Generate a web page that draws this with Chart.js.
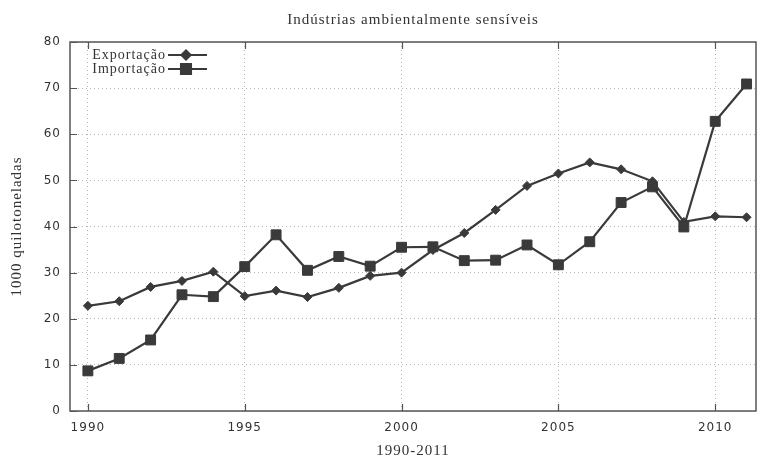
<!DOCTYPE html>
<html lang="pt">
<head>
<meta charset="UTF-8">
<title>Indústrias ambientalmente sensíveis</title>
<script src="https://cdn.jsdelivr.net/npm/chart.js"></script>
<style>
  html, body { margin: 0; padding: 0; background: #fff; }
  #wrap { width: 764px; height: 459px; position: relative; }
</style>
</head>
<body>
<div id="wrap"><canvas id="chart"></canvas></div>
<script>
// years on the x axis
const years = [1990, 1991, 1992, 1993, 1994, 1995, 1996, 1997, 1998, 1999, 2000,
               2001, 2002, 2003, 2004, 2005, 2006, 2007, 2008, 2009, 2010, 2011];

// 1000 quilotoneladas
const exportacao = [22.8, 23.8, 26.9, 28.2, 30.2, 24.9, 26.1, 24.7, 26.7, 29.3, 30.0,
                    34.9, 38.6, 43.6, 48.8, 51.5, 53.9, 52.4, 49.8, 41.0, 42.2, 42.0];
const importacao = [8.7, 11.4, 15.4, 25.2, 24.8, 31.3, 38.2, 30.5, 33.5, 31.4, 35.5,
                    35.6, 32.6, 32.7, 36.0, 31.7, 36.7, 45.2, 48.6, 39.9, 62.8, 70.9];

const xTicks = [1990, 1995, 2000, 2005, 2010];
const yTicks = [0, 10, 20, 30, 40, 50, 60, 70, 80];

const chartTitle = 'Indústrias ambientalmente sensíveis';
const xTitle = '1990-2011';
const yTitle = '1000 quilotoneladas';

const ink = '#3a3a3a';
const serif = '"Liberation Serif", "DejaVu Serif", serif';
const sans = '"DejaVu Sans", sans-serif';

// wider letter spacing for every text on the canvas
const spacing = {
  id: 'spacing',
  beforeDraw(chart) { chart.ctx.letterSpacing = '1px'; },
  afterDraw(chart) { chart.ctx.letterSpacing = '0px'; }
};

// frame, inner tick marks, titles and the legend in the top-left corner
const decorations = {
  id: 'decorations',
  afterDatasetsDraw(chart) {
    const { ctx, chartArea: a, scales } = chart;
    ctx.save();

    // inner tick marks
    ctx.strokeStyle = '#555';
    ctx.lineWidth = 1.2;
    ctx.beginPath();
    yTicks.forEach(v => {
      const y = Math.round(scales.y.getPixelForValue(v)) + 0.5;
      ctx.moveTo(a.left, y); ctx.lineTo(a.left + 7, y);
    });
    xTicks.forEach(v => {
      const x = Math.round(scales.x.getPixelForValue(v)) + 0.5;
      ctx.moveTo(x, a.bottom); ctx.lineTo(x, a.bottom - 7);
      ctx.moveTo(x, a.top); ctx.lineTo(x, a.top + 7);
    });
    ctx.stroke();

    // frame
    ctx.lineWidth = 1.5;
    ctx.strokeStyle = '#555';
    ctx.strokeRect(a.left, a.top, a.right - a.left, a.bottom - a.top);

    // titles
    ctx.letterSpacing = '1px';
    ctx.fillStyle = '#333';
    ctx.font = '15px ' + serif;
    ctx.textAlign = 'center';
    ctx.textBaseline = 'middle';
    ctx.fillText(chartTitle, (a.left + a.right) / 2, 20);
    ctx.fillText(xTitle, (a.left + a.right) / 2, 451);
    ctx.save();
    ctx.translate(17, (a.top + a.bottom) / 2);
    ctx.rotate(-Math.PI / 2);
    ctx.fillText(yTitle, 0, 0);
    ctx.restore();

    // legend: label, then a line sample with the marker
    chart.data.datasets.forEach((ds, i) => {
      const y = 55 + i * 14;
      ctx.textAlign = 'right';
      ctx.fillStyle = '#333';
      ctx.font = '14px ' + serif;
      ctx.fillText(ds.label, 166, y);
      ctx.strokeStyle = ds.borderColor;
      ctx.lineWidth = ds.borderWidth;
      ctx.beginPath();
      ctx.moveTo(168, y); ctx.lineTo(207, y);
      ctx.stroke();
      ctx.fillStyle = ds.pointBackgroundColor;
      Chart.helpers.drawPoint(ctx, {
        pointStyle: ds.pointStyle, radius: ds.pointRadius, borderWidth: 1
      }, 186, y);
    });
    ctx.restore();
  }
};

new Chart(document.getElementById('chart'), {
  type: 'line',
  data: {
    datasets: [
      {
        label: 'Exportação',
        data: years.map((yr, i) => ({ x: yr, y: exportacao[i] })),
        borderColor: ink,
        borderWidth: 2.2,
        pointStyle: 'rectRot',
        pointRadius: 4.5,
        pointBackgroundColor: ink,
        pointBorderColor: ink,
        pointBorderWidth: 1,
        tension: 0
      },
      {
        label: 'Importação',
        data: years.map((yr, i) => ({ x: yr, y: importacao[i] })),
        borderColor: ink,
        borderWidth: 2.2,
        pointStyle: 'rect',
        pointRadius: 7,
        pointBackgroundColor: ink,
        pointBorderColor: ink,
        pointBorderWidth: 1,
        tension: 0
      }
    ]
  },
  options: {
    responsive: true,
    maintainAspectRatio: false,
    animation: false,
    layout: { padding: { left: 0, right: 1, top: 42, bottom: 0 } },
    plugins: {
      legend: { display: false },
      title: { display: false },
      tooltip: { enabled: false }
    },
    scales: {
      x: {
        type: 'linear',
        min: 1989.43,
        max: 2011.3,
        afterBuildTicks: scale => { scale.ticks = xTicks.map(v => ({ value: v })); },
        afterFit: scale => { scale.height = 48; },
        border: { display: false, dash: [1, 3] },
        grid: { color: '#b5b5b5', lineWidth: 1, drawTicks: false },
        ticks: {
          padding: 10,
          color: '#333',
          font: { family: sans, size: 12 },
          callback: v => String(v)
        }
      },
      y: {
        min: 0,
        max: 80,
        afterBuildTicks: scale => { scale.ticks = yTicks.map(v => ({ value: v })); },
        afterFit: scale => { scale.width = 70; },
        border: { display: false, dash: [1, 3] },
        grid: { color: '#b5b5b5', lineWidth: 1, drawTicks: false },
        ticks: {
          padding: 9,
          color: '#333',
          font: { family: sans, size: 12 }
        }
      }
    }
  },
  plugins: [spacing, decorations]
});
</script>
</body>
</html>
